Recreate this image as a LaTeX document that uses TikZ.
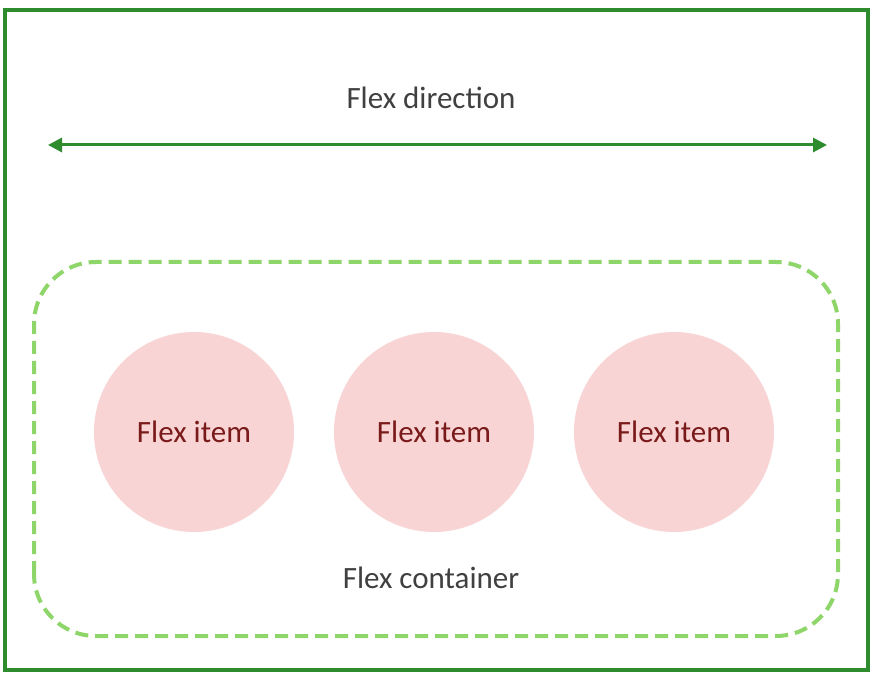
\documentclass[tikz,border=0pt]{standalone}
\usepackage{fontspec}
\setmainfont{Carlito}
\usetikzlibrary{arrows.meta}
\definecolor{outergreen}{HTML}{2E8B2E}
\definecolor{dashgreen}{HTML}{8FD66A}
\definecolor{itempink}{HTML}{F8D4D4}
\definecolor{itemtext}{HTML}{7A1A1A}
\definecolor{labelgray}{HTML}{404040}
\tikzset{
  itemcircle/.style={circle,fill=itempink,draw=none,minimum size=200pt,inner sep=0pt,
    text=itemtext,font=\fontsize{31}{34}\selectfont},
  labeltext/.style={text=labelgray,font=\fontsize{31}{34}\selectfont,inner sep=0pt},
}
\begin{document}
\begin{tikzpicture}[x=1pt,y=1pt]
\useasboundingbox[fill=white] (0,0) rectangle (880,678);
% outer box
\draw[outergreen,line width=3.5pt] (5,8) rectangle (868,668);
% direction arrow
\coordinate (aL) at (48,533);
\coordinate (aR) at (827,533);
\draw[outergreen,line width=3pt,{Triangle[length=14pt,width=14pt]}-{Triangle[length=14pt,width=14pt]}] (aL) -- (aR);
\node[labeltext] (dir) at (431,580) {Flex direction};
% container
\draw[dashgreen,line width=4pt,dash pattern=on 13pt off 7pt,rounded corners=62pt] (34,42) rectangle (838,416);
\node[labeltext] (cont) at (431,100) {Flex container};
% items
\node[itemcircle] (i1) at (194,246) {Flex item};
\node[itemcircle] (i2) at (434,246) {Flex item};
\node[itemcircle] (i3) at (674,246) {Flex item};
\end{tikzpicture}
\end{document}
